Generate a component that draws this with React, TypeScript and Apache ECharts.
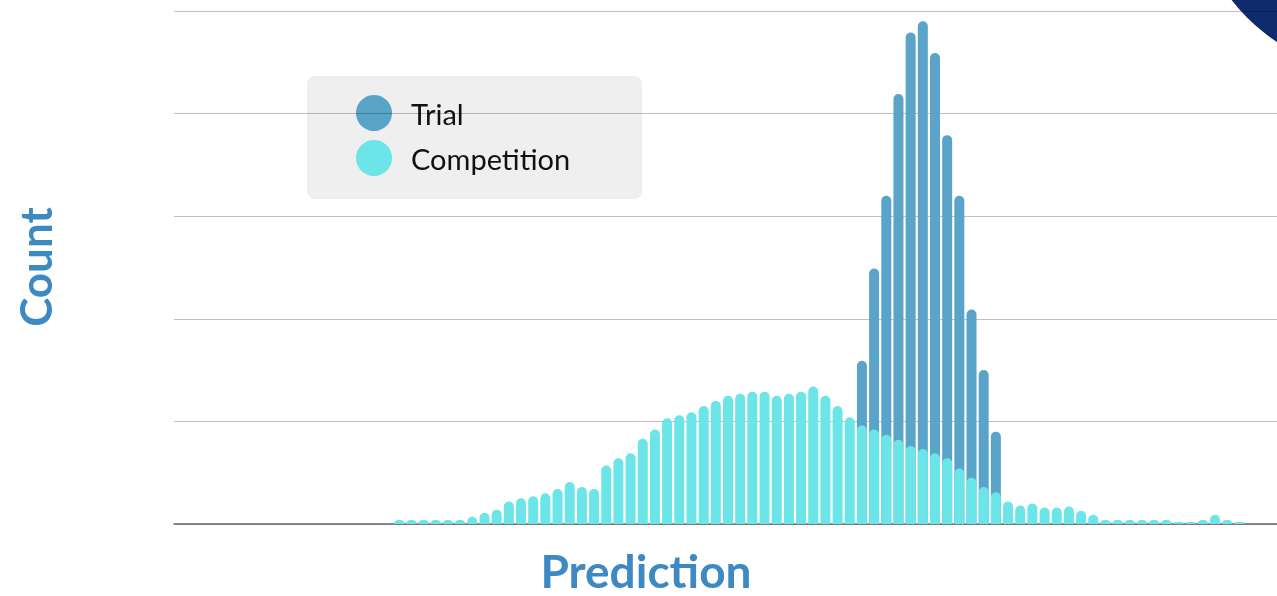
import React, { useEffect, useRef } from "react";
import * as echarts from "echarts";

// Empty bins before the first populated bin, and after the last
const LEADING_EMPTY_BINS = 18;
const TRAILING_EMPTY_BINS = 3;

// Counts per prediction bin (70 populated bins)
const competitionCounts = [
  4, 4, 4, 4, 4, 4, 7, 11, 14, 22,
  25, 27, 30, 34, 41, 36, 34, 57, 64, 69,
  83, 92, 103, 106, 109, 115, 120, 125, 127, 129,
  129, 125, 127, 129, 134, 125, 115, 104, 96, 92,
  87, 82, 76, 73, 69, 64, 54, 45, 36, 31,
  22, 18, 20, 16, 16, 17, 13, 9, 4, 4,
  4, 4, 4, 4, 2, 2, 4, 9, 4, 2,
];

const trialCounts = [
  0, 0, 0, 0, 0, 0, 0, 0, 0, 0,
  0, 0, 0, 0, 0, 0, 0, 0, 0, 0,
  0, 0, 0, 0, 0, 0, 0, 0, 0, 0,
  0, 0, 0, 0, 0, 0, 0, 0, 159, 249,
  320, 419, 479, 490, 459, 379, 320, 209, 150, 90,
  0, 0, 0, 0, 0, 0, 0, 0, 0, 0,
  0, 0, 0, 0, 0, 0, 0, 0, 0, 0,
];

const seriesNames = ["Trial", "Competition"];
const yTicks = [0, 100, 200, 300, 400, 500];

const TRIAL_COLOR = "#5BA4C9";
const COMP_COLOR = "#6CE5E8";
const TITLE_COLOR = "#3D89C4";

export default function App() {
  const ref = useRef<HTMLDivElement>(null);

  useEffect(() => {
    if (!ref.current) return;
    const chart = echarts.init(ref.current, null, { renderer: "svg" });

    const pad = (arr: number[]) => [
      ...new Array(LEADING_EMPTY_BINS).fill(null),
      ...arr.map((v) => (v > 0 ? v : null)),
      ...new Array(TRAILING_EMPTY_BINS).fill(null),
    ];
    const totalBins = LEADING_EMPTY_BINS + competitionCounts.length + TRAILING_EMPTY_BINS;
    const categories = Array.from({ length: totalBins }, (_, i) => String(i));

    chart.setOption({
      animation: false,
      grid: { left: 174, top: 11, bottom: 72, right: 18, containLabel: false },
      legend: {
        data: seriesNames,
        left: 307,
        top: 76,
        orient: "vertical",
        icon: "circle",
        itemWidth: 36,
        itemHeight: 36,
        itemGap: 9,
        backgroundColor: "#EFEFEF",
        borderRadius: 8,
        padding: [19, 72, 23, 49],
        z: -1,
        textStyle: {
          fontFamily: "Lato, 'Noto Sans', sans-serif",
          fontSize: 29,
          color: "#111111",
          padding: [0, 0, 0, 14],
        },
        selectedMode: false,
      },
      xAxis: {
        type: "category",
        data: categories,
        axisLabel: { show: false },
        axisTick: { show: false },
        axisLine: { show: true, lineStyle: { color: "#666666", width: 1.5 } },
        splitLine: { show: false },
      },
      yAxis: {
        type: "value",
        min: yTicks[0],
        max: yTicks[yTicks.length - 1],
        interval: yTicks[1] - yTicks[0],
        axisLabel: { show: false },
        axisTick: { show: false },
        axisLine: { show: false },
        splitLine: { show: true, lineStyle: { color: "rgba(0,0,0,0.25)", width: 1 } },
      },
      series: [
        {
          name: seriesNames[0],
          type: "bar",
          data: pad(trialCounts),
          barWidth: 10,
          barGap: "-100%",
          itemStyle: { color: TRIAL_COLOR, borderRadius: [5, 5, 0, 0] },
          z: 2,
        },
        {
          name: seriesNames[1],
          type: "bar",
          data: pad(competitionCounts),
          barWidth: 10,
          barGap: "-100%",
          itemStyle: { color: COMP_COLOR, borderRadius: [5, 5, 0, 0] },
          z: 3,
        },
      ],
      graphic: [
        {
          type: "circle",
          shape: { cx: 1383, cy: -118, r: 192 },
          style: { fill: "#0F2B6B" },
          z: -10,
          silent: true,
        },
        {
          type: "text",
          x: 646,
          y: 570,
          style: {
            text: "Prediction",
            fontFamily: "Lato, 'Noto Sans', sans-serif",
            fontWeight: "bold",
            fontSize: 46,
            fill: TITLE_COLOR,
            textAlign: "center",
            textVerticalAlign: "middle",
          },
        },
        {
          type: "text",
          x: 35,
          y: 267,
          rotation: Math.PI / 2,
          style: {
            text: "Count",
            fontFamily: "Lato, 'Noto Sans', sans-serif",
            fontWeight: "bold",
            fontSize: 44,
            fill: TITLE_COLOR,
            textAlign: "center",
            textVerticalAlign: "middle",
          },
        },
      ],
    });

    return () => chart.dispose();
  }, []);

  return (
    <div
      ref={ref}
      style={{ position: "fixed", left: 0, top: 0, width: 1300, height: 596 }}
    />
  );
}
